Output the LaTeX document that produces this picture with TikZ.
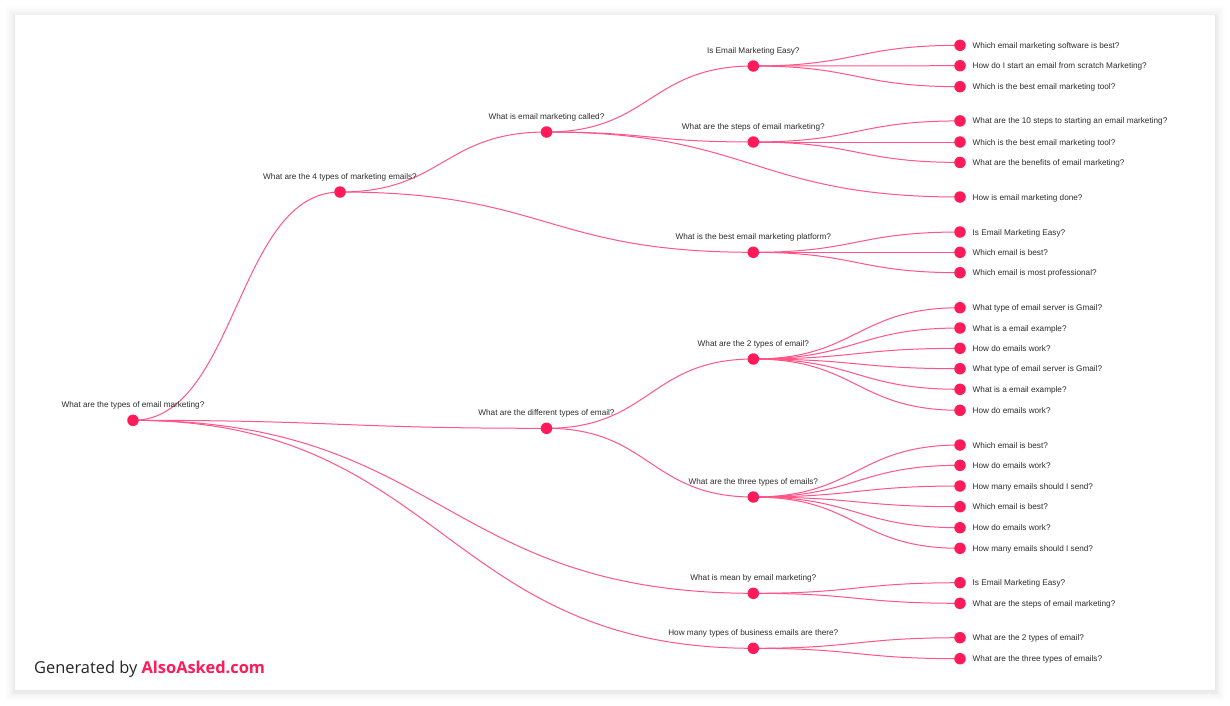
\documentclass[tikz,border=0pt]{standalone}
\usepackage{fontspec}
\setmainfont{Liberation Sans}
\newfontfamily\gfont{Open Sans}
\usetikzlibrary{calc}
\definecolor{aapink}{RGB}{255,26,90}
\definecolor{lnpink}{RGB}{255,85,135}
\definecolor{txt}{RGB}{45,45,45}
\pgfdeclarelayer{bg}
\pgfdeclarelayer{edges}
\pgfsetlayers{bg,edges,main}
\tikzset{
  dot/.style={circle, fill=aapink, draw=none, minimum size=11.5pt, inner sep=0pt},
  ilab/.style={anchor=base, inner sep=0pt, text=txt, font=\fontsize{8.2}{9}\selectfont},
  llab/.style={anchor=base west, inner sep=0pt, text=txt, font=\fontsize{8.2}{9}\selectfont},
  link/.style={draw=lnpink, line width=1pt}
}
\newcommand\inode[4]{\node[dot] (#1) at (#2,#3) {}; \node[ilab] (#1-l) at ($(#1)+(0,-13)$) {#4};}
\newcommand\leaf[4]{\node[dot] (#1) at (#2,#3) {}; \node[llab] (#1-l) at ($(#1)+(12.5,3)$) {#4};}
\newcommand\lnk[2]{\begin{pgfonlayer}{edges}\draw[link] let \p1=(#1.center), \p2=(#2.center) in (\p1) .. controls ({0.5*\x1+0.5*\x2},\y1) and ({0.5*\x1+0.5*\x2},\y2) .. (\p2);\end{pgfonlayer}}
\begin{document}
\begin{tikzpicture}[x=1pt,y=-1pt]
\useasboundingbox (0,0) rectangle (1230,705);
\begin{pgfonlayer}{bg}
\fill[white] (0,0) rectangle (1230,705);
\foreach \d/\o in {10/0.008,8/0.01,6/0.012,4/0.015,2.5/0.018,1.2/0.02}
  \fill[black, opacity=\o] (15-\d,15-\d+1) rectangle (1215+\d,690+\d+1);
\fill[white] (15,15) rectangle (1215,690);
\end{pgfonlayer}

% internal nodes
\inode{r}{133}{420.3}{What are the types of email marketing?}
\inode{a}{340}{192}{What are the 4 types of marketing emails?}
\inode{b}{546.5}{428.3}{What are the different types of email?}
\inode{c}{753.3}{593.3}{What is mean by email marketing?}
\inode{d}{753.3}{648.3}{How many types of business emails are there?}
\inode{aa}{546.5}{132}{What is email marketing called?}
\inode{ab}{753.3}{252.3}{What is the best email marketing platform?}
\inode{aaa}{753.3}{66}{Is Email Marketing Easy?}
\inode{aab}{753.3}{142}{What are the steps of email marketing?}
\inode{ba}{753.3}{359}{What are the 2 types of email?}
\inode{bb}{753.3}{497}{What are the three types of emails?}

% leaves
\leaf{aac}{960}{197}{How is email marketing done?}
\leaf{aaa1}{960}{45.3}{Which email marketing software is best?}
\leaf{aaa2}{960}{65.7}{How do I start an email from scratch Marketing?}
\leaf{aaa3}{960}{86.7}{Which is the best email marketing tool?}
\leaf{aab1}{960}{120.9}{What are the 10 steps to starting an email marketing?}
\leaf{aab2}{960}{142}{Which is the best email marketing tool?}
\leaf{aab3}{960}{162.4}{What are the benefits of email marketing?}
\leaf{ab1}{960}{232}{Is Email Marketing Easy?}
\leaf{ab2}{960}{252.3}{Which email is best?}
\leaf{ab3}{960}{272.7}{Which email is most professional?}
\leaf{ba1}{960}{307.7}{What type of email server is Gmail?}
\leaf{ba2}{960}{328}{What is a email example?}
\leaf{ba3}{960}{348.3}{How do emails work?}
\leaf{ba4}{960}{368.7}{What type of email server is Gmail?}
\leaf{ba5}{960}{389.3}{What is a email example?}
\leaf{ba6}{960}{410.3}{How do emails work?}
\leaf{bb1}{960}{445}{Which email is best?}
\leaf{bb2}{960}{465.3}{How do emails work?}
\leaf{bb3}{960}{486}{How many emails should I send?}
\leaf{bb4}{960}{506.7}{Which email is best?}
\leaf{bb5}{960}{527.7}{How do emails work?}
\leaf{bb6}{960}{548.3}{How many emails should I send?}
\leaf{c1}{960}{582.7}{Is Email Marketing Easy?}
\leaf{c2}{960}{603.3}{What are the steps of email marketing?}
\leaf{d1}{960}{637.7}{What are the 2 types of email?}
\leaf{d2}{960}{658.7}{What are the three types of emails?}

% links
\lnk{r}{a}\lnk{r}{b}\lnk{r}{c}\lnk{r}{d}
\lnk{a}{aa}\lnk{a}{ab}
\lnk{aa}{aaa}\lnk{aa}{aab}\lnk{aa}{aac}
\lnk{aaa}{aaa1}\lnk{aaa}{aaa2}\lnk{aaa}{aaa3}
\lnk{aab}{aab1}\lnk{aab}{aab2}\lnk{aab}{aab3}
\lnk{ab}{ab1}\lnk{ab}{ab2}\lnk{ab}{ab3}
\lnk{b}{ba}\lnk{b}{bb}
\lnk{ba}{ba1}\lnk{ba}{ba2}\lnk{ba}{ba3}\lnk{ba}{ba4}\lnk{ba}{ba5}\lnk{ba}{ba6}
\lnk{bb}{bb1}\lnk{bb}{bb2}\lnk{bb}{bb3}\lnk{bb}{bb4}\lnk{bb}{bb5}\lnk{bb}{bb6}
\lnk{c}{c1}\lnk{c}{c2}
\lnk{d}{d1}\lnk{d}{d2}

\node[anchor=base west, inner sep=0pt, font=\gfont\fontsize{16.4}{20}\selectfont, text=black!85] (gen) at (34,673.5) {Generated by \textcolor{aapink}{\bfseries AlsoAsked.com}};
\end{tikzpicture}
\end{document}
